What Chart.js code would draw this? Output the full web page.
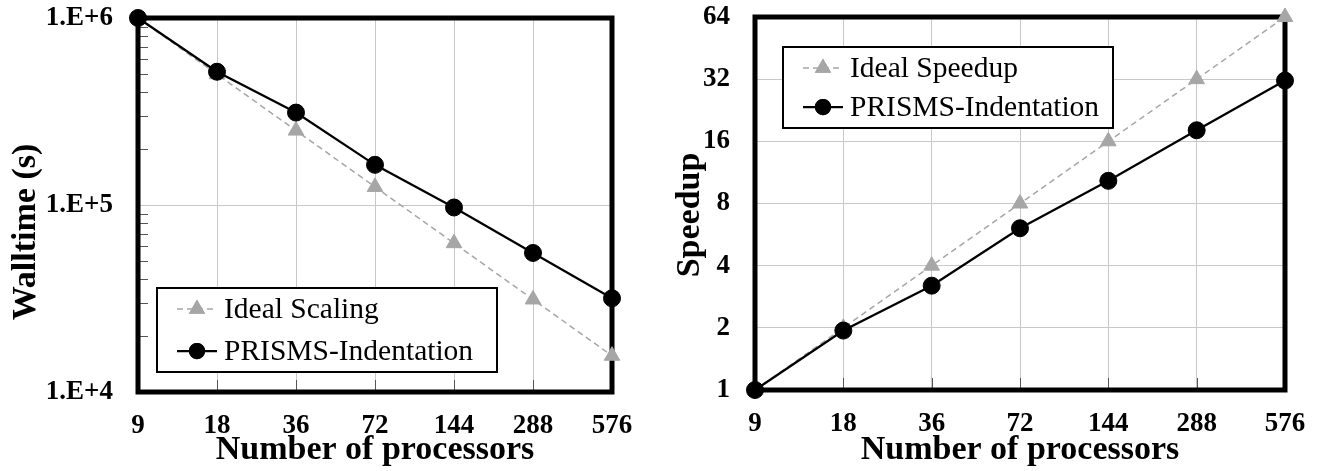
<!DOCTYPE html>
<html>
<head>
<meta charset="utf-8">
<script src="https://cdn.jsdelivr.net/npm/chart.js@4.4.1/dist/chart.umd.min.js"></script>
<style>
html, body { margin: 0; padding: 0; background: #fff; }
#wrap { display: flex; width: 1322px; height: 471px; }
canvas { display: block; }
</style>
</head>
<body>
<div id="wrap">
  <canvas id="walltime_chart" width="660" height="471"></canvas>
  <canvas id="speedup_chart" width="662" height="471"></canvas>
</div>
<script>
// processor counts on the x axis (equally spaced, doubling)
const processors = ['9', '18', '36', '72', '144', '288', '576'];

// walltime in seconds
const ideal_walltime = [1000000, 500000, 250000, 125000, 62500, 31250, 15625];
const prisms_walltime = [1000000, 516000, 312000, 164000, 97000, 55400, 31700];

// speedup relative to 9 processors
const ideal_speedup = [1, 2, 4, 8, 16, 32, 64];
const prisms_speedup = [1, 1.94, 3.2, 6.07, 10.3, 18.1, 31.5];

const walltime_ticks = [10000, 100000, 1000000];
const walltime_tick_labels = ['1.E+4', '1.E+5', '1.E+6'];
const speedup_ticks = [1, 2, 4, 8, 16, 32, 64];

const SERIF = "'Liberation Serif', 'Times New Roman', serif";
const GRID = '#c8c8c8';
const GREY = '#a6a6a6';

// thick frame round the plot, inward tick marks, y title, boxed legend
const framePlugin = {
    id: 'frame',
    beforeDatasetsDraw(chart, args, opts) {
        const ctx = chart.ctx;
        const a = chart.chartArea;
        const x = chart.scales.x;
        const y = chart.scales.y;
        ctx.save();
        ctx.strokeStyle = '#555';
        ctx.lineWidth = 1;
        ctx.beginPath();
        x.ticks.forEach((t, i) => {
            const px = Math.round(x.getPixelForTick(i)) + 0.5;
            ctx.moveTo(px, a.bottom);
            ctx.lineTo(px, a.bottom - 12);
        });
        (opts.minorTicks || []).forEach(v => {
            const py = Math.round(y.getPixelForValue(v)) + 0.5;
            ctx.moveTo(a.left, py);
            ctx.lineTo(a.left + 10, py);
        });
        ctx.stroke();
        ctx.strokeStyle = '#000';
        ctx.lineWidth = 5;
        ctx.strokeRect(a.left, a.top, a.right - a.left, a.bottom - a.top);

        // rotated y axis title
        ctx.translate(opts.titleX, opts.titleY);
        ctx.rotate(-Math.PI / 2);
        ctx.fillStyle = '#000';
        ctx.font = 'bold 34px ' + SERIF;
        ctx.textAlign = 'center';
        ctx.textBaseline = 'middle';
        ctx.fillText(opts.title, 0, 0);
        ctx.restore();
    },
    afterDatasetsDraw(chart, args, opts) {
        const ctx = chart.ctx;
        const a = chart.chartArea;
        const L = opts.legend;
        const bx = a.left + L.left, by = a.top + L.top;
        ctx.save();
        ctx.fillStyle = '#fff';
        ctx.fillRect(bx, by, L.width, L.height);
        ctx.strokeStyle = '#000';
        ctx.lineWidth = 2;
        ctx.strokeRect(bx, by, L.width, L.height);
        const rows = [by + 21, by + L.height - 21];
        // legend rows follow the dataset order: ideal first, then PRISMS
        chart.data.datasets.forEach((ds, i) => {
            const ry = rows[i];
            ctx.strokeStyle = ds.borderColor;
            ctx.lineWidth = ds.borderWidth;
            ctx.setLineDash(ds.borderDash || []);
            ctx.beginPath();
            ctx.moveTo(bx + 20, ry);
            ctx.lineTo(bx + 60, ry);
            ctx.stroke();
            ctx.setLineDash([]);
            Chart.helpers.drawPoint(ctx, {
                pointStyle: ds.pointStyle,
                radius: ds.pointStyle === 'triangle' ? 8 : 7,
                borderWidth: 1
            }, bx + 40, ry);
            ctx.fillStyle = ds.pointBackgroundColor;
            ctx.strokeStyle = ds.pointBorderColor;
            ctx.fill();
            ctx.stroke();
            ctx.fillStyle = '#000';
            ctx.font = '29.5px ' + SERIF;
            ctx.textAlign = 'left';
            ctx.textBaseline = 'middle';
            ctx.fillText(ds.label, bx + 67, ry + 1);
        });
        ctx.restore();
    }
};

function lineSets(idealLabel, ideal, prisms) {
    return [{
        label: idealLabel,
        data: ideal,
        borderColor: GREY,
        borderWidth: 1.5,
        borderDash: [6, 4],
        pointStyle: 'triangle',
        pointRadius: 9,
        pointBackgroundColor: GREY,
        pointBorderColor: GREY,
        pointBorderWidth: 1,
        clip: false,
        order: 1
    }, {
        label: 'PRISMS-Indentation',
        data: prisms,
        borderColor: '#000',
        borderWidth: 2.25,
        pointStyle: 'circle',
        pointRadius: 8.5,
        pointBackgroundColor: '#000',
        pointBorderColor: '#000',
        pointBorderWidth: 1,
        clip: false,
        order: 0
    }];
}

function chartOptions(o) {
    return {
        responsive: false,
        animation: false,
        layout: { padding: { top: o.top, right: o.right, bottom: 0, left: 0 } },
        plugins: {
            legend: { display: false },
            tooltip: { enabled: false },
            frame: o.frame
        },
        scales: {
            x: {
                type: 'category',
                offset: false,
                grid: { color: GRID, lineWidth: 1, drawTicks: false },
                border: { display: false },
                ticks: {
                    color: '#000',
                    font: { family: SERIF, size: 27, weight: 'bold' },
                    padding: 18,
                    maxRotation: 0,
                    autoSkip: false
                },
                title: {
                    display: true,
                    text: 'Number of processors',
                    color: '#000',
                    font: { family: SERIF, size: 34, weight: 'bold' },
                    padding: 0
                },
                afterFit: s => {
                    s.height = o.xHeight;
                    s.paddingLeft = 0;
                    s.paddingRight = 0;
                }
            },
            y: {
                type: 'logarithmic',
                min: o.yMin,
                max: o.yMax,
                grid: { color: GRID, lineWidth: 1, drawTicks: false },
                border: { display: false },
                afterBuildTicks: s => { s.ticks = o.yTicks.map(v => ({ value: v })); },
                ticks: {
                    color: '#000',
                    font: { family: SERIF, size: 27, weight: 'bold' },
                    padding: 25,
                    callback: o.yLabel
                },
                afterFit: s => {
                    s.width = o.yWidth;
                    s.paddingTop = 0;
                    s.paddingBottom = 0;
                }
            }
        }
    };
}

// minor log ticks between the decades
const walltime_minor = [];
[10000, 100000].forEach(d => {
    for (let m = 2; m <= 9; m++) walltime_minor.push(m * d);
});

let walltime_document = document.getElementById('walltime_chart').getContext('2d');
let walltime_chart = new Chart(walltime_document, {
    type: 'line',
    data: {
        labels: processors,
        datasets: lineSets('Ideal Scaling', ideal_walltime, prisms_walltime)
    },
    options: chartOptions({
        top: 18, right: 48, xHeight: 79, yWidth: 138,
        yMin: 10000, yMax: 1000000, yTicks: walltime_ticks,
        yLabel: v => walltime_tick_labels[walltime_ticks.indexOf(v)] || '',
        frame: {
            title: 'Walltime (s)', titleX: 26, titleY: 232,
            minorTicks: walltime_minor,
            legend: { left: 19, top: 270, width: 340, height: 84 }
        }
    }),
    plugins: [framePlugin]
});

let speedup_document = document.getElementById('speedup_chart').getContext('2d');
let speedup_chart = new Chart(speedup_document, {
    type: 'line',
    data: {
        labels: processors,
        datasets: lineSets('Ideal Speedup', ideal_speedup, prisms_speedup)
    },
    options: chartOptions({
        top: 17, right: 37, xHeight: 81, yWidth: 95,
        yMin: 1, yMax: 64, yTicks: speedup_ticks,
        yLabel: v => String(v),
        frame: {
            title: 'Speedup', titleX: 30, titleY: 215,
            minorTicks: [],
            legend: { left: 28, top: 30, width: 330, height: 81 }
        }
    }),
    plugins: [framePlugin]
});
</script>
</body>
</html>
